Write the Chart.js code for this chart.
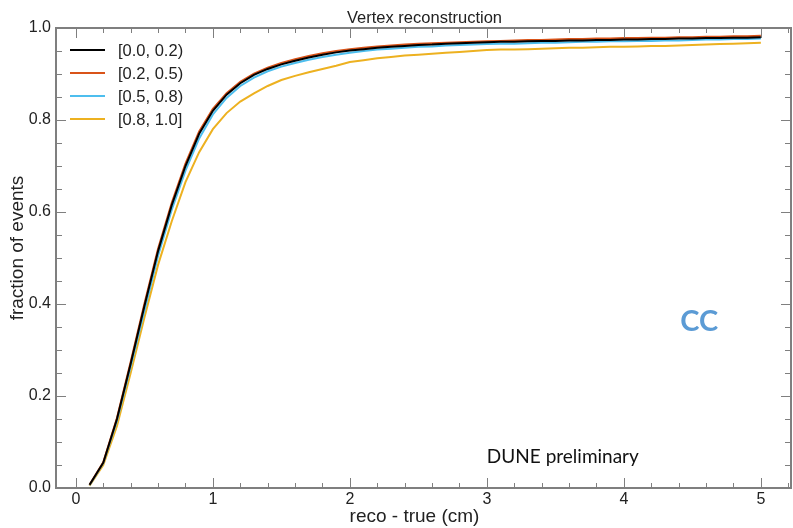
<!DOCTYPE html>
<html lang="en">
<head>
    <meta charset="UTF-8">
    <title>Vertex reconstruction</title>
    <style>
        body {
            margin: 0;
            background-color: #ffffff;
        }
    </style>
    <script src="https://cdn.jsdelivr.net/npm/chart.js"></script>
</head>
<body>
    <canvas id="vtxChart" width="793" height="528"></canvas>

    <script>
        // reco - true (cm)
        const distances = [0.1, 0.2, 0.3, 0.4, 0.5, 0.6, 0.7, 0.8, 0.9, 1.0,
                           1.1, 1.2, 1.3, 1.4, 1.5, 1.6, 1.7, 1.8, 1.9, 2.0,
                           2.1, 2.2, 2.3, 2.4, 2.5, 2.6, 2.7, 2.8, 2.9, 3.0,
                           3.1, 3.2, 3.3, 3.4, 3.5, 3.6, 3.7, 3.8, 3.9, 4.0,
                           4.1, 4.2, 4.3, 4.4, 4.5, 4.6, 4.7, 4.8, 4.9, 5.0];

        const seriesLabels = ['[0.0, 0.2)', '[0.2, 0.5)', '[0.5, 0.8)', '[0.8, 1.0]'];
        const seriesColors = ['#000000', '#D95319', '#4DBEEE', '#EDB120'];

        const frac00_02 = [0.007, 0.055, 0.150, 0.270, 0.395, 0.515, 0.615, 0.700, 0.770, 0.820,
                           0.855, 0.880, 0.898, 0.911, 0.921, 0.929, 0.936, 0.942, 0.947, 0.951,
                           0.954, 0.957, 0.959, 0.961, 0.963, 0.964, 0.966, 0.967, 0.968, 0.969,
                           0.970, 0.970, 0.971, 0.972, 0.972, 0.973, 0.973, 0.974, 0.974, 0.975,
                           0.975, 0.976, 0.976, 0.977, 0.977, 0.978, 0.978, 0.979, 0.979, 0.980];
        const frac02_05 = [0.007, 0.056, 0.152, 0.274, 0.400, 0.520, 0.620, 0.705, 0.775, 0.824,
                           0.858, 0.883, 0.901, 0.914, 0.924, 0.932, 0.939, 0.945, 0.950, 0.954,
                           0.957, 0.960, 0.962, 0.964, 0.966, 0.967, 0.968, 0.969, 0.970, 0.971,
                           0.972, 0.973, 0.974, 0.974, 0.975, 0.976, 0.976, 0.977, 0.977, 0.978,
                           0.978, 0.979, 0.979, 0.980, 0.980, 0.981, 0.981, 0.982, 0.982, 0.983];
        const frac05_08 = [0.006, 0.054, 0.146, 0.264, 0.385, 0.505, 0.605, 0.690, 0.760, 0.812,
                           0.848, 0.874, 0.892, 0.906, 0.916, 0.924, 0.931, 0.937, 0.942, 0.946,
                           0.950, 0.953, 0.955, 0.957, 0.959, 0.960, 0.962, 0.963, 0.964, 0.965,
                           0.966, 0.966, 0.967, 0.968, 0.968, 0.969, 0.970, 0.970, 0.971, 0.971,
                           0.972, 0.972, 0.973, 0.973, 0.974, 0.975, 0.975, 0.976, 0.976, 0.977];
        const frac08_10 = [0.005, 0.050, 0.135, 0.250, 0.370, 0.485, 0.580, 0.665, 0.730, 0.780,
                           0.815, 0.840, 0.858, 0.874, 0.887, 0.896, 0.904, 0.911, 0.918, 0.926,
                           0.930, 0.934, 0.937, 0.940, 0.942, 0.944, 0.946, 0.948, 0.950, 0.952,
                           0.953, 0.953, 0.954, 0.955, 0.956, 0.957, 0.957, 0.958, 0.959, 0.959,
                           0.960, 0.961, 0.961, 0.962, 0.963, 0.964, 0.965, 0.966, 0.967, 0.968];

        const xTickValues = [0, 1, 2, 3, 4, 5];
        const yTickValues = [0, 0.2, 0.4, 0.6, 0.8, 1.0];
        const xMinorStep = 0.2;
        const yMinorStep = 0.05;

        const AXIS_GREY = '#7f7f7f';
        const TEXT_COLOR = '#222222';
        const FONT = "'Liberation Sans', Arial, sans-serif";

        function toPoints(values) {
            return values.map(function(v, i) {
                return { x: distances[i], y: v };
            });
        }

        // frame with inward ticks on all four sides
        const framePlugin = {
            id: 'frame',
            afterDatasetsDraw: function(chart) {
                const ctx = chart.ctx;
                const a = chart.chartArea;
                const xs = chart.scales.x;
                const ys = chart.scales.y;
                ctx.save();
                ctx.strokeStyle = AXIS_GREY;

                ctx.lineWidth = 1;
                ctx.beginPath();
                for (let v = Math.ceil(xs.min / xMinorStep) * xMinorStep; v <= xs.max + 1e-9; v += xMinorStep) {
                    const isMajor = Math.abs(v - Math.round(v)) < 1e-6;
                    const len = isMajor ? 10 : 5;
                    const px = Math.round(xs.getPixelForValue(v)) + 0.5;
                    ctx.moveTo(px, a.bottom); ctx.lineTo(px, a.bottom - len);
                    ctx.moveTo(px, a.top); ctx.lineTo(px, a.top + len);
                }
                for (let v = 0; v <= ys.max + 1e-9; v += yMinorStep) {
                    const isMajor = Math.abs(v / 0.2 - Math.round(v / 0.2)) < 1e-6;
                    const len = isMajor ? 10 : 6;
                    const py = Math.round(ys.getPixelForValue(v)) + 0.5;
                    ctx.moveTo(a.left, py); ctx.lineTo(a.left + len, py);
                    ctx.moveTo(a.right, py); ctx.lineTo(a.right - len, py);
                }
                ctx.stroke();

                ctx.lineWidth = 2;
                ctx.strokeRect(a.left, a.top, a.right - a.left, a.bottom - a.top);
                ctx.restore();
            }
        };

        // title, axis titles, legend inside the plot and the text labels
        const notesPlugin = {
            id: 'notes',
            afterDraw: function(chart) {
                const ctx = chart.ctx;
                const xs = chart.scales.x;
                const ys = chart.scales.y;
                const a = chart.chartArea;
                ctx.save();

                ctx.fillStyle = TEXT_COLOR;
                ctx.textBaseline = 'alphabetic';
                ctx.textAlign = 'center';
                ctx.font = '16.5px ' + FONT;
                ctx.fillText('Vertex reconstruction', (a.left + a.right) / 2 + 1, 22.5);

                ctx.font = '19px ' + FONT;
                ctx.fillText('reco - true (cm)', (a.left + a.right) / 2 - 9, 522);

                ctx.save();
                ctx.translate(23, 248);
                ctx.rotate(-Math.PI / 2);
                ctx.fillText('fraction of events', 0, 0);
                ctx.restore();

                ctx.font = '16.5px ' + FONT;
                ctx.textBaseline = 'middle';
                ctx.textAlign = 'left';
                chart.data.datasets.forEach(function(ds, i) {
                    const y = 50 + i * 23;
                    ctx.strokeStyle = ds.borderColor;
                    ctx.lineWidth = 2;
                    ctx.beginPath();
                    ctx.moveTo(70, y);
                    ctx.lineTo(105, y);
                    ctx.stroke();
                    ctx.fillStyle = TEXT_COLOR;
                    ctx.fillText(ds.label, 118, y + 1);
                });

                ctx.font = "bold 29px Lato, 'Open Sans', sans-serif";
                ctx.fillStyle = '#5B9BD5';
                ctx.textAlign = 'center';
                ctx.fillText('CC', xs.getPixelForValue(4.55), ys.getPixelForValue(0.362));

                ctx.font = "19px Lato, 'Open Sans', sans-serif";
                ctx.fillStyle = '#111111';
                ctx.textAlign = 'left';
                ctx.fillText('DUNE preliminary', xs.getPixelForValue(3.0), ys.getPixelForValue(0.068));
                ctx.restore();
            }
        };

        const datasets = [frac00_02, frac02_05, frac05_08, frac08_10].map(function(vals, i) {
            return {
                label: seriesLabels[i],
                data: toPoints(vals),
                borderColor: seriesColors[i],
                backgroundColor: seriesColors[i],
                borderWidth: 2,
                pointRadius: 0,
                tension: 0,
                fill: false
            };
        });

        new Chart(document.getElementById('vtxChart').getContext('2d'), {
            type: 'line',
            data: { datasets: datasets },
            options: {
                responsive: false,
                animation: false,
                layout: { padding: { left: 0, right: 2, top: 28, bottom: 0 } },
                plugins: {
                    legend: { display: false },
                    tooltip: { enabled: false },
                    title: { display: false }
                },
                scales: {
                    x: {
                        type: 'linear',
                        min: -0.145,
                        max: 5.22,
                        grid: { display: false, drawTicks: false },
                        border: { display: false },
                        afterBuildTicks: function(scale) {
                            scale.ticks = xTickValues.map(function(v) { return { value: v }; });
                        },
                        afterFit: function(scale) { scale.height = 40; },
                        ticks: {
                            color: TEXT_COLOR,
                            font: { family: FONT, size: 16 },
                            padding: 2,
                            maxRotation: 0,
                            callback: function(v) { return String(v); }
                        }
                    },
                    y: {
                        type: 'linear',
                        min: 0,
                        max: 1,
                        grid: { display: false, drawTicks: false },
                        border: { display: false },
                        afterBuildTicks: function(scale) {
                            scale.ticks = yTickValues.map(function(v) { return { value: v }; });
                        },
                        afterFit: function(scale) { scale.width = 56; },
                        ticks: {
                            color: TEXT_COLOR,
                            font: { family: FONT, size: 16 },
                            padding: 5,
                            callback: function(v) { return v.toFixed(1); }
                        }
                    }
                }
            },
            plugins: [framePlugin, notesPlugin]
        });
    </script>
</body>
</html>
